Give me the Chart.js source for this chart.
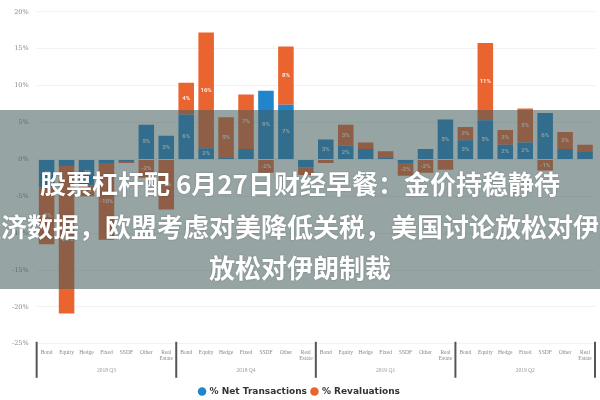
<!DOCTYPE html>
<html>
<head>
<meta charset="utf-8">
<script src="https://cdn.jsdelivr.net/npm/chart.js@4/dist/chart.umd.min.js"></script>
<style>
    html, body { margin: 0; padding: 0; background: #fff; }
    #wrap { position: relative; width: 600px; height: 400px; overflow: hidden; }
    #overlay {
        position: absolute; left: 0; top: 110px; width: 600px; height: 179px;
        background: rgba(65, 90, 90, 0.55); overflow: hidden;
    }
    .line {
        position: absolute; left: 300px; transform: translateX(-50%);
        white-space: nowrap; color: #fff; font: bold 26px "Noto Sans CJK SC", sans-serif;
        line-height: 42px; text-shadow: 0 0 2px rgba(0, 0, 0, 0.25);
    }
</style>
</head>
<body>
<div id="wrap">
    <canvas id="chart" width="600" height="400"></canvas>
    <div id="overlay">
        <div class="line" style="top: 52px;">股票杠杆配 6月27日财经早餐：金价持稳静待</div>
        <div class="line" style="top: 95px;">经济数据，欧盟考虑对美降低关税，美国讨论放松对伊朗</div>
        <div class="line" style="top: 136px;">放松对伊朗制裁</div>
    </div>
</div>
<script>
    // chart data
    var categories = ['Bond', 'Equity', 'Hedge', 'Fixed', 'SSDF', 'Other', ['Real', 'Estate']];
    var quarters = ['2018 Q3', '2018 Q4', '2019 Q1', '2019 Q2'];
    var netTransactions = [
        -3.8, -0.9, -3.5, -0.6, -0.2, 4.7, 3.2,
        6.1, 1.5, 0.3, 1.4, 9.3, 7.4, -1.1,
        2.7, 1.9, 1.4, 0.2, -0.6, 1.4, 5.4,
        2.6, 5.3, 2.0, 2.3, 6.3, 1.4, 1.0
    ];
    var revaluations = [
        -7.7, -20.0, -1.5, -10.3, -0.3, -2.5, -6.8,
        4.3, 15.7, 5.4, 7.4, -1.8, 7.9, -1.0,
        -0.5, 2.8, 0.9, 0.9, -1.6, -1.8, -1.4,
        1.8, 10.5, 2.0, 4.6, -1.5, 2.3, 1.0
    ];
    var yTicks = [-25, -20, -15, -10, -5, 0, 5, 10, 15, 20];

    var xLabels = [];
    quarters.forEach(function () {
        categories.forEach(function (c) { xLabels.push(c); });
    });

    // white % labels inside the bar segments
    var barLabels = {
        id: 'barLabels',
        afterDatasetsDraw: function (chart) {
            var ctx = chart.ctx;
            ctx.save();
            ctx.font = 'bold 6px Roboto, sans-serif';
            ctx.fillStyle = 'rgba(255,255,255,0.85)';
            ctx.textAlign = 'center';
            ctx.textBaseline = 'middle';
            chart.data.datasets.forEach(function (ds, i) {
                chart.getDatasetMeta(i).data.forEach(function (bar, j) {
                    var h = Math.abs(bar.base - bar.y);
                    if (h < 10) return;
                    ctx.fillText(Math.round(ds.data[j]) + '%', bar.x, (bar.y + bar.base) / 2);
                });
            });
            ctx.restore();
        }
    };

    // dark separators between the quarter groups
    var groupLines = {
        id: 'groupLines',
        afterDraw: function (chart) {
            var x = chart.scales.x;
            var ctx = chart.ctx;
            ctx.save();
            ctx.strokeStyle = '#555';
            ctx.lineWidth = 2;
            for (var g = 0; g <= quarters.length; g++) {
                var px = x.getPixelForValue(g * categories.length - 0.5);
                ctx.beginPath();
                ctx.moveTo(px, chart.chartArea.bottom - 2);
                ctx.lineTo(px, chart.chartArea.bottom + 34);
                ctx.stroke();
            }
            ctx.restore();
        }
    };

    new Chart(document.getElementById('chart'), {
        type: 'bar',
        data: {
            labels: xLabels,
            datasets: [{
                label: '% Net Transactions',
                data: netTransactions,
                backgroundColor: '#2185cc'
            }, {
                label: '% Revaluations',
                data: revaluations,
                backgroundColor: '#ea6430'
            }]
        },
        options: {
            responsive: false,
            animation: false,
            categoryPercentage: 1,
            barPercentage: 0.78,
            layout: { padding: { left: 4, right: 5, top: 2, bottom: -6 } },
            scales: {
                x: {
                    stacked: true,
                    grid: { display: false, drawTicks: false },
                    border: { display: false },
                    afterFit: function (axis) { axis.height -= 7; },
                    ticks: {
                        autoSkip: false, maxRotation: 0, color: '#888',
                        font: { size: 5.5, family: 'Liberation Serif', lineHeight: 1.1 }, padding: 6
                    }
                },
                x2: {
                    type: 'category',
                    labels: quarters,
                    offset: true,
                    grid: { display: false, drawTicks: false },
                    border: { display: false },
                    afterFit: function (axis) { axis.height += 3; },
                    ticks: { color: '#999', font: { size: 5.5, family: 'Liberation Serif' }, padding: 6 }
                },
                y: {
                    stacked: true,
                    min: yTicks[0],
                    max: yTicks[yTicks.length - 1],
                    afterBuildTicks: function (axis) {
                        axis.ticks = yTicks.map(function (v) { return { value: v }; });
                    },
                    grid: { color: 'rgba(0,0,0,0.05)', drawTicks: false },
                    border: { display: false },
                    ticks: {
                        color: '#888', font: { size: 6.5, family: 'DejaVu Serif' }, padding: 8,
                        callback: function (v) { return v + '%'; }
                    }
                }
            },
            plugins: {
                legend: {
                    position: 'bottom',
                    labels: {
                        usePointStyle: true, pointStyle: 'circle', boxWidth: 6, boxHeight: 6,
                        color: '#333', padding: 4.5,
                        font: { size: 9, weight: 'bold', family: 'DejaVu Sans' }
                    }
                },
                tooltip: { enabled: false }
            }
        },
        plugins: [barLabels, groupLines]
    });
</script>
</body>
</html>
